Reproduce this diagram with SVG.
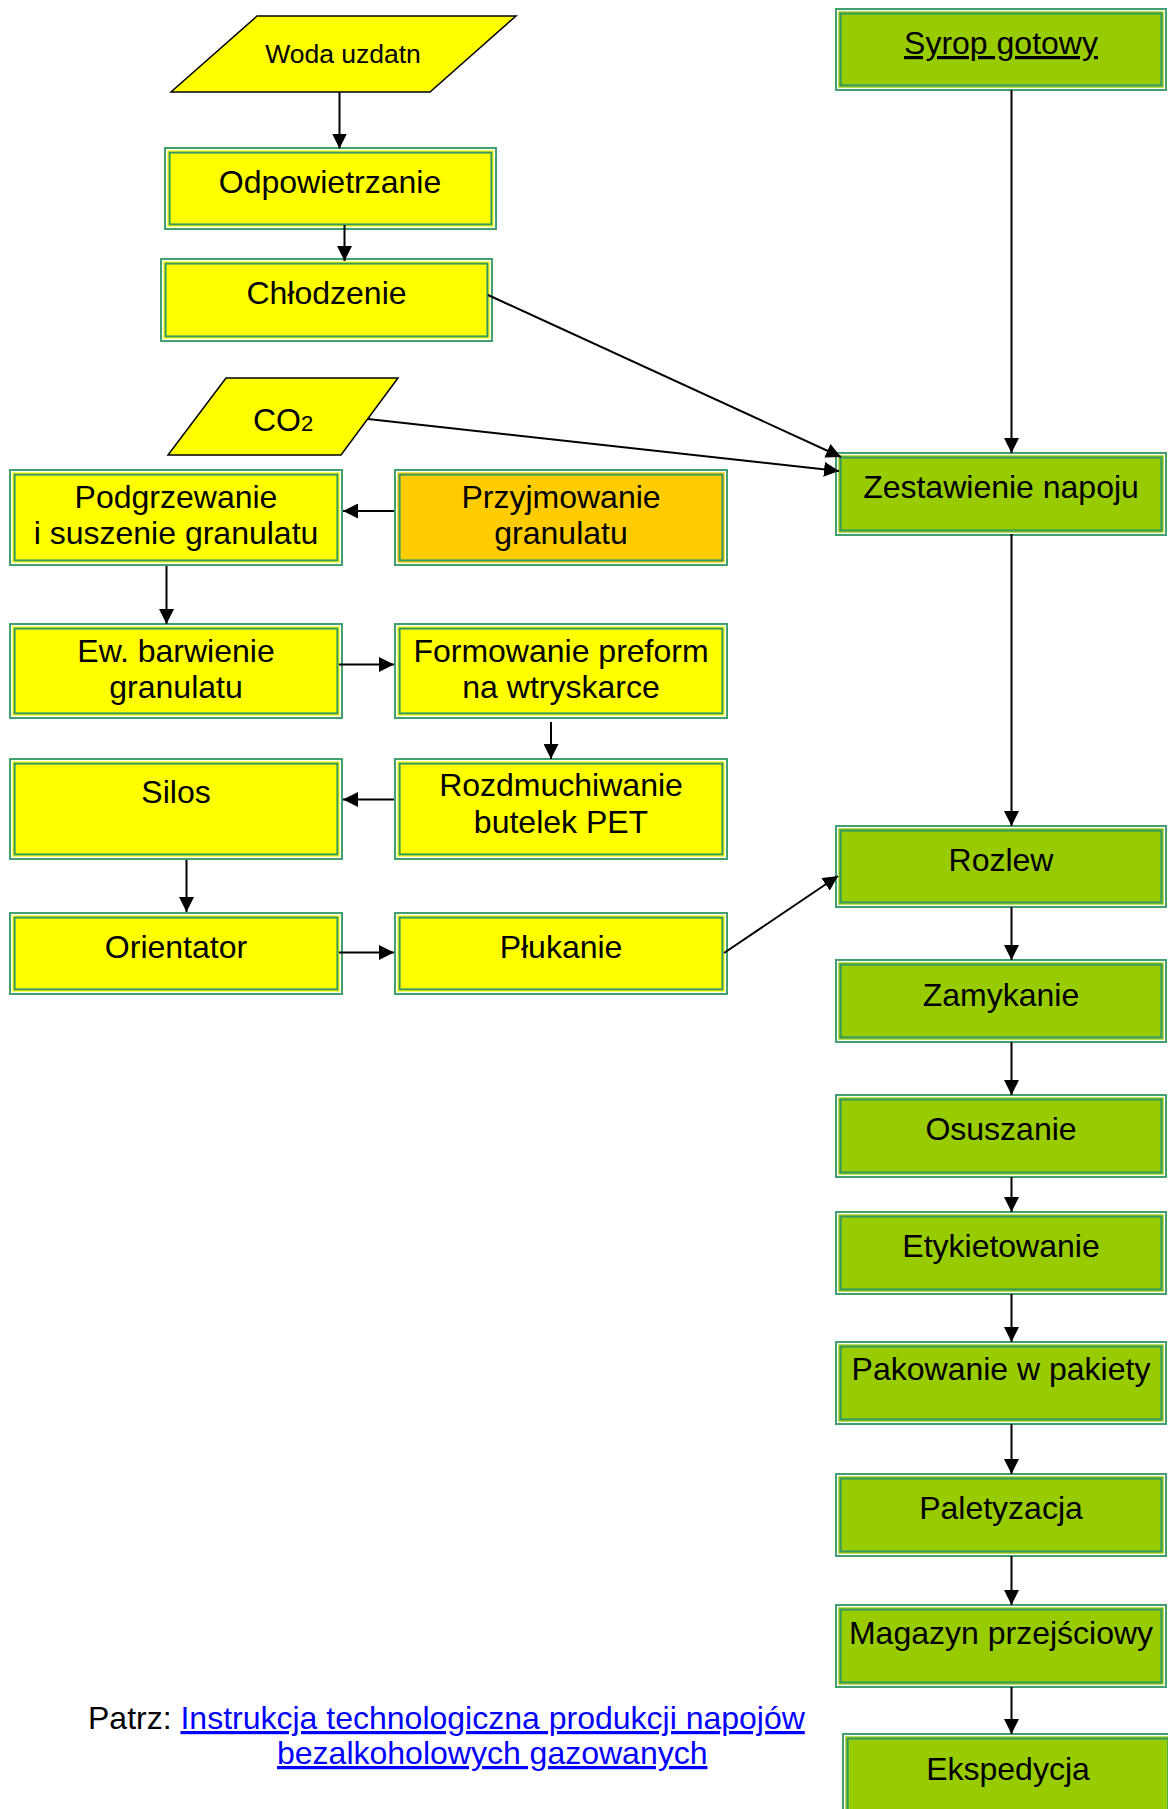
<svg xmlns="http://www.w3.org/2000/svg" width="1168" height="1809" viewBox="0 0 1168 1809">
<style>
text{font-family:"Liberation Sans",Arial,sans-serif;font-size:32px;fill:#000;text-anchor:middle}
.o{stroke:#40A070;stroke-width:2}
.y{fill:#FFFF00}.g{fill:#99CC00}.or{fill:#FFCC00}
.wh{fill:none;stroke:#fff;stroke-width:1.33}
.in{fill:none;stroke:#339966;stroke-width:2}
.par{fill:#FFFF00;stroke:#000;stroke-width:1.5}
.c line{stroke:#000;stroke-width:2;marker-end:url(#ah)}
.lnk{fill:#0000FF;text-decoration:underline}
</style>
<defs>
<marker id="ah" markerUnits="userSpaceOnUse" markerWidth="15" markerHeight="15" refX="15" refY="7.5" orient="auto">
<path d="M0,0 L15,7.5 L0,15 z" fill="#000"/>
</marker>
</defs>
<rect width="1168" height="1809" fill="#fff"/>

<g id="woda"><polygon class="par" points="257,16 516,16 430,92 171,92"/><text x="343" y="63" style="font-size:26.5px">Woda uzdatn</text></g>
<g id="co2"><polygon class="par" points="226,378 398,378 341,455 168,455"/><text x="283" y="431">CO<tspan style="font-size:22px">2</tspan></text></g>

<g id="odp"><rect class="o y" x="165" y="148" width="331" height="81"/><rect class="wh" x="166.67" y="149.67" width="327.67" height="77.67"/><rect class="in" x="169.6" y="152.6" width="321.8" height="71.8"/><text x="330" y="193">Odpowietrzanie</text></g>
<g id="chl"><rect class="o y" x="161" y="259" width="331" height="82"/><rect class="wh" x="162.67" y="260.67" width="327.67" height="78.67"/><rect class="in" x="165.6" y="263.6" width="321.8" height="72.8"/><text x="326.5" y="304">Chłodzenie</text></g>
<g id="podgrz"><rect class="o y" x="10" y="470" width="332" height="95"/><rect class="wh" x="11.67" y="471.67" width="328.67" height="91.67"/><rect class="in" x="14.6" y="474.6" width="322.8" height="85.8"/><text x="176" y="508">Podgrzewanie</text><text x="176" y="544">i suszenie granulatu</text></g>
<g id="przyj"><rect class="o or" x="395" y="470" width="332" height="95"/><rect class="wh" x="396.67" y="471.67" width="328.67" height="91.67"/><rect class="in" x="399.6" y="474.6" width="322.8" height="85.8"/><text x="561" y="508">Przyjmowanie</text><text x="561" y="544">granulatu</text></g>
<g id="ew"><rect class="o y" x="10" y="624" width="332" height="94"/><rect class="wh" x="11.67" y="625.67" width="328.67" height="90.67"/><rect class="in" x="14.6" y="628.6" width="322.8" height="84.8"/><text x="176" y="662">Ew. barwienie</text><text x="176" y="698">granulatu</text></g>
<g id="form"><rect class="o y" x="395" y="624" width="332" height="94"/><rect class="wh" x="396.67" y="625.67" width="328.67" height="90.67"/><rect class="in" x="399.6" y="628.6" width="322.8" height="84.8"/><text x="561" y="662">Formowanie preform</text><text x="561" y="698">na wtryskarce</text></g>
<g id="silos"><rect class="o y" x="10" y="759" width="332" height="100"/><rect class="wh" x="11.67" y="760.67" width="328.67" height="96.67"/><rect class="in" x="14.6" y="763.6" width="322.8" height="90.8"/><text x="176" y="803">Silos</text></g>
<g id="rozdm"><rect class="o y" x="395" y="759" width="332" height="100"/><rect class="wh" x="396.67" y="760.67" width="328.67" height="96.67"/><rect class="in" x="399.6" y="763.6" width="322.8" height="90.8"/><text x="561" y="796">Rozdmuchiwanie</text><text x="561" y="833">butelek PET</text></g>
<g id="orient"><rect class="o y" x="10" y="913" width="332" height="81"/><rect class="wh" x="11.67" y="914.67" width="328.67" height="77.67"/><rect class="in" x="14.6" y="917.6" width="322.8" height="71.8"/><text x="176" y="958">Orientator</text></g>
<g id="pluk"><rect class="o y" x="395" y="913" width="332" height="81"/><rect class="wh" x="396.67" y="914.67" width="328.67" height="77.67"/><rect class="in" x="399.6" y="917.6" width="322.8" height="71.8"/><text x="561" y="958">Płukanie</text></g>

<g id="syrop"><rect class="o g" x="836" y="9" width="330" height="81"/><rect class="wh" x="837.67" y="10.67" width="326.67" height="77.67"/><rect class="in" x="840.6" y="13.6" width="320.8" height="71.8"/><text x="1001" y="54" style="text-decoration:underline">Syrop gotowy</text></g>
<g id="zest"><rect class="o g" x="836" y="453" width="330" height="82"/><rect class="wh" x="837.67" y="454.67" width="326.67" height="78.67"/><rect class="in" x="840.6" y="457.6" width="320.8" height="72.8"/><text x="1001" y="498">Zestawienie napoju</text></g>
<g id="rozlew"><rect class="o g" x="836" y="826" width="330" height="81"/><rect class="wh" x="837.67" y="827.67" width="326.67" height="77.67"/><rect class="in" x="840.6" y="830.6" width="320.8" height="71.8"/><text x="1001" y="871">Rozlew</text></g>
<g id="zam"><rect class="o g" x="836" y="960" width="330" height="82"/><rect class="wh" x="837.67" y="961.67" width="326.67" height="78.67"/><rect class="in" x="840.6" y="964.6" width="320.8" height="72.8"/><text x="1001" y="1005.5">Zamykanie</text></g>
<g id="osu"><rect class="o g" x="836" y="1095" width="330" height="82"/><rect class="wh" x="837.67" y="1096.67" width="326.67" height="78.67"/><rect class="in" x="840.6" y="1099.6" width="320.8" height="72.8"/><text x="1001" y="1140">Osuszanie</text></g>
<g id="ety"><rect class="o g" x="836" y="1212" width="330" height="82"/><rect class="wh" x="837.67" y="1213.67" width="326.67" height="78.67"/><rect class="in" x="840.6" y="1216.6" width="320.8" height="72.8"/><text x="1001" y="1257">Etykietowanie</text></g>
<g id="pak"><rect class="o g" x="836" y="1342" width="330" height="82"/><rect class="wh" x="837.67" y="1343.67" width="326.67" height="78.67"/><rect class="in" x="840.6" y="1346.6" width="320.8" height="72.8"/><text x="1001" y="1380">Pakowanie w pakiety</text></g>
<g id="pal"><rect class="o g" x="836" y="1474" width="330" height="82"/><rect class="wh" x="837.67" y="1475.67" width="326.67" height="78.67"/><rect class="in" x="840.6" y="1478.6" width="320.8" height="72.8"/><text x="1001" y="1519">Paletyzacja</text></g>
<g id="mag"><rect class="o g" x="836" y="1605" width="330" height="82"/><rect class="wh" x="837.67" y="1606.67" width="326.67" height="78.67"/><rect class="in" x="840.6" y="1609.6" width="320.8" height="72.8"/><text x="1001" y="1644">Magazyn przejściowy</text></g>
<g id="eksp"><rect class="o g" x="843" y="1734" width="330" height="82"/><rect class="wh" x="844.67" y="1735.67" width="326.67" height="78.67"/><rect class="in" x="847.6" y="1738.6" width="320.8" height="72.8"/><text x="1008" y="1780">Ekspedycja</text></g>

<g id="connectors" class="c">
<line x1="339.5" y1="92" x2="339.5" y2="148.5"/>
<line x1="344.5" y1="225" x2="344.5" y2="261"/>
<line x1="488" y1="295" x2="841" y2="457"/>
<line x1="368" y1="419" x2="839" y2="471"/>
<line x1="1011.5" y1="90" x2="1011.5" y2="453"/>
<line x1="394" y1="511" x2="343" y2="511"/>
<line x1="166.5" y1="566" x2="166.5" y2="624"/>
<line x1="339" y1="664.5" x2="394" y2="664.5"/>
<line x1="551" y1="722" x2="551" y2="759"/>
<line x1="394" y1="799.5" x2="343" y2="799.5"/>
<line x1="186.5" y1="860" x2="186.5" y2="912"/>
<line x1="339" y1="952.5" x2="394" y2="952.5"/>
<line x1="724" y1="953" x2="838" y2="876"/>
<line x1="1011.5" y1="534" x2="1011.5" y2="826"/>
<line x1="1011.5" y1="907" x2="1011.5" y2="960"/>
<line x1="1011.5" y1="1042" x2="1011.5" y2="1095"/>
<line x1="1011.5" y1="1177" x2="1011.5" y2="1212"/>
<line x1="1011.5" y1="1294" x2="1011.5" y2="1342"/>
<line x1="1011.5" y1="1424" x2="1011.5" y2="1474"/>
<line x1="1011.5" y1="1556" x2="1011.5" y2="1605"/>
<line x1="1011.5" y1="1687" x2="1011.5" y2="1734"/>
</g>

<g id="note">
<text x="88" y="1729" style="text-anchor:start">Patrz: <tspan class="lnk">Instrukcja technologiczna produkcji napojów</tspan></text>
<text x="277" y="1764" class="lnk" style="text-anchor:start">bezalkoholowych gazowanych</text>
</g>
</svg>
